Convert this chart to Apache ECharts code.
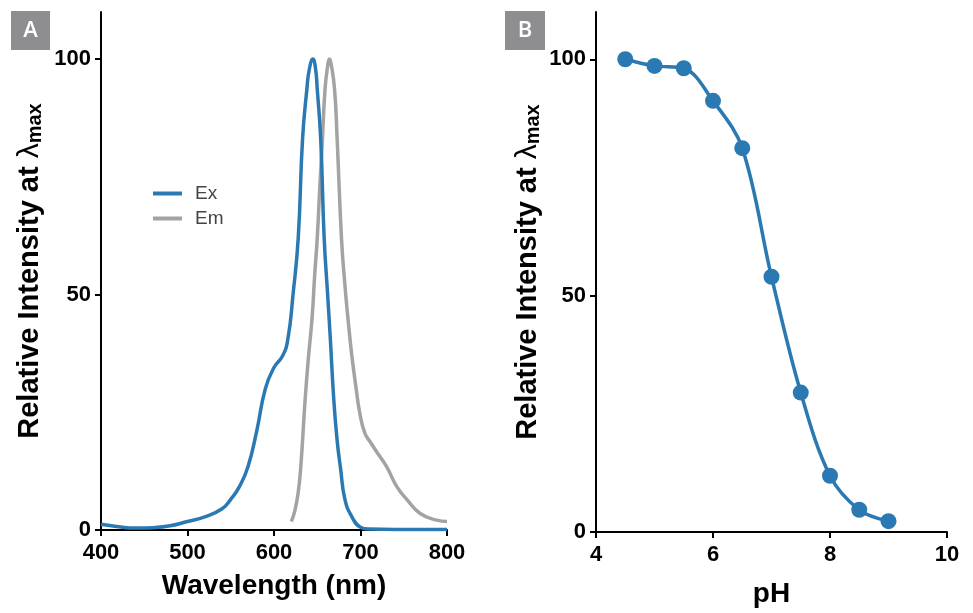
<!DOCTYPE html>
<html>
<head>
<meta charset="utf-8">
<script src="https://cdn.jsdelivr.net/npm/echarts@6/dist/echarts.min.js"></script>
<style>
  html, body { margin: 0; padding: 0; background: #fff; }
  #chart { width: 973px; height: 613px; }
</style>
</head>
<body>
<div id="chart"></div>
<script>
// panel A: excitation / emission spectra
const exWavelength = [400, 420, 440, 460, 480, 500, 520, 540, 550, 560, 570, 580, 590, 600, 610, 616, 622, 628, 633, 638, 641, 645, 648, 650, 654, 658, 662, 665, 669, 673, 677, 682, 690, 700, 710, 740, 800];
const exIntensity  = [1.2, 0.7, 0.4, 0.5, 0.9, 1.8, 2.8, 4.5, 6.5, 9.2, 13.5, 21, 30, 34.5, 37, 40.5, 50, 62, 83, 93.6, 98, 100, 98, 93.6, 83, 62, 50, 41, 28, 19, 13, 6.5, 2.8, 0.6, 0.2, 0.1, 0.1];

const emWavelength = [620, 624, 628, 631, 636, 640, 644, 647, 650, 653, 656, 659, 662, 664, 666, 670, 673, 678, 682, 686, 690, 695, 699, 705, 712, 719, 730, 742, 754, 769, 788, 800];
const emIntensity  = [1.8, 4, 8, 13.5, 27.7, 37, 45, 54, 62, 73, 83, 93.6, 98.5, 100, 99, 93.6, 83, 62, 52, 44, 37, 30, 25, 20.6, 18.5, 16.5, 13.5, 9.2, 6.4, 3.5, 2.1, 1.8];

// panel B: pH dependence
const phValues    = [4.5, 5, 5.5, 6, 6.5, 7, 7.5, 8, 8.5, 9];
const phIntensity = [100, 98.6, 98.1, 91.2, 81.2, 54, 29.5, 11.9, 4.7, 2.3];

const yTicks = [0, 50, 100];

const BLUE = '#2b79b3';
const GREY = '#a3a3a6';
const FONT = 'Liberation Sans, Arial, sans-serif';

const pairs = (xs, ys) => xs.map((x, i) => [x, ys[i]]);

const axisCommon = {
  axisLine: { onZero: false, lineStyle: { color: '#000', width: 2 } },
  axisTick: { length: 6, lineStyle: { color: '#000', width: 2 } },
  splitLine: { show: false },
  axisLabel: { color: '#000', fontSize: 22, fontWeight: 'bold', fontFamily: FONT, margin: 10 },
  nameTextStyle: { color: '#000', fontSize: 28, fontWeight: 'bold', fontFamily: FONT }
};

const yName = '{a|Relative Intensity at }{l|λ}{s|max}';
const yNameStyle = {
  color: '#000',
  fontFamily: FONT,
  rich: {
    a: { fontSize: 29, fontWeight: 'bold', fontFamily: FONT, color: '#000' },
    l: { fontSize: 30, fontWeight: 'normal', fontFamily: FONT, color: '#000' },
    s: { fontSize: 20, fontWeight: 'bold', fontFamily: FONT, color: '#000', verticalAlign: 'bottom', padding: [10, 0, 0, 0] }
  }
};

function yAxis(gridIndex, gap) {
  return {
    ...axisCommon,
    type: 'value',
    gridIndex: gridIndex,
    min: 0,
    max: 110,
    axisTick: { ...axisCommon.axisTick, customValues: yTicks },
    axisLabel: { ...axisCommon.axisLabel, customValues: yTicks },
    name: yName,
    nameLocation: 'middle',
    nameRotate: 90,
    nameGap: gap,
    nameTextStyle: yNameStyle
  };
}

const myChart = echarts.init(document.getElementById('chart'));

myChart.setOption({
  animation: false,
  backgroundColor: '#fff',
  graphic: [
    { type: 'rect', left: 11, top: 11, shape: { width: 39, height: 39 }, style: { fill: '#8e8e91' } },
    { type: 'text', x: 30.5, y: 31, style: { text: 'A', fill: '#fff', fontSize: 22, fontWeight: 600, fontFamily: 'Open Sans, sans-serif', align: 'center', verticalAlign: 'middle' } },
    { type: 'rect', left: 505, top: 11, shape: { width: 40, height: 39 }, style: { fill: '#8e8e91' } },
    { type: 'text', x: 525, y: 31, style: { text: 'B', fill: '#fff', fontSize: 22, fontWeight: 600, fontFamily: 'Open Sans, sans-serif', align: 'center', verticalAlign: 'middle' } }
  ],
  grid: [
    { left: 101, top: 12, width: 346, height: 518 },
    { left: 596, top: 12, width: 351, height: 527 }
  ],
  legend: {
    data: ['Ex', 'Em'],
    orient: 'vertical',
    left: 148,
    top: 179,
    icon: 'rect',
    itemWidth: 29,
    itemHeight: 4,
    itemGap: 6,
    textStyle: { color: '#444', fontSize: 19, fontFamily: FONT, padding: [0, 0, 0, 8] }
  },
  xAxis: [
    {
      ...axisCommon,
      type: 'value',
      gridIndex: 0,
      min: 400,
      max: 800,
      interval: 100,
      axisLabel: { ...axisCommon.axisLabel, margin: 12 },
      name: 'Wavelength (nm)',
      nameLocation: 'middle',
      nameGap: 42
    },
    {
      ...axisCommon,
      type: 'value',
      gridIndex: 1,
      min: 4,
      max: 10,
      interval: 2,
      axisLabel: { ...axisCommon.axisLabel, margin: 12 },
      name: 'pH',
      nameLocation: 'middle',
      nameGap: 48
    }
  ],
  yAxis: [yAxis(0, 56), yAxis(1, 53)],
  series: [
    {
      name: 'Ex',
      type: 'line',
      xAxisIndex: 0,
      yAxisIndex: 0,
      data: pairs(exWavelength, exIntensity),
      smooth: 0.5,
      showSymbol: false,
      lineStyle: { color: BLUE, width: 3.5 },
      itemStyle: { color: BLUE },
      z: 3
    },
    {
      name: 'Em',
      type: 'line',
      xAxisIndex: 0,
      yAxisIndex: 0,
      data: pairs(emWavelength, emIntensity),
      smooth: 0.5,
      showSymbol: false,
      lineStyle: { color: GREY, width: 3.5 },
      itemStyle: { color: GREY },
      z: 2
    },
    {
      name: 'pH response',
      type: 'line',
      xAxisIndex: 1,
      yAxisIndex: 1,
      data: pairs(phValues, phIntensity),
      smooth: 0.35,
      symbol: 'circle',
      symbolSize: 16,
      lineStyle: { color: BLUE, width: 3.5 },
      itemStyle: { color: BLUE }
    }
  ]
});
</script>
</body>
</html>
